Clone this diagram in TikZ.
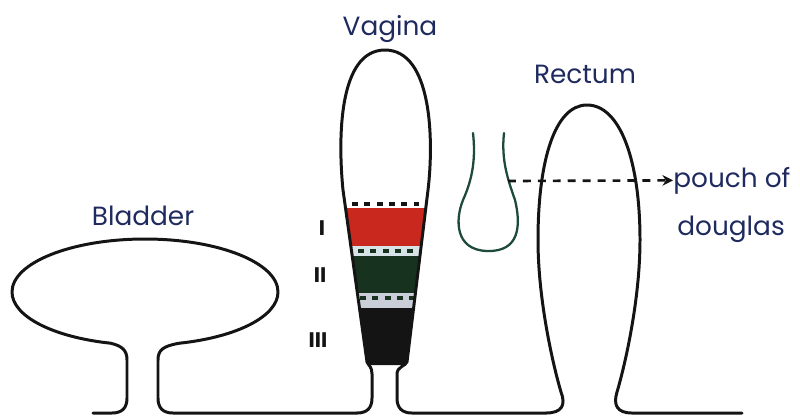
\documentclass[tikz,border=0pt]{standalone}
\usepackage{fontspec}
\setmainfont{Poppins}
\usepackage{tikz}
\usetikzlibrary{arrows.meta, positioning}
\usepackage{xcolor}
\definecolor{inkblue}{HTML}{1F2B5E}
\definecolor{inkdark}{HTML}{141414}
\definecolor{pouchgreen}{HTML}{1E4A3E}
\definecolor{bandred}{HTML}{C9281F}
\definecolor{bandgreen}{HTML}{17331F}
\definecolor{bandpale}{HTML}{D6E4E8}
\definecolor{bandgray}{HTML}{C9CED8}

\begin{document}
\begin{tikzpicture}[x=0.02cm, y=-0.02cm,
  organ/.style={line width=1.7pt, line cap=round, line join=round, inkdark},
  organlabel/.style={font=\fontsize{15}{18}\selectfont, text=inkblue, inner sep=0pt},
  numeral/.style={font=\bfseries\fontsize{12}{14}\selectfont, text=inkdark, inner sep=0pt},
  bandrow/.style={line width=2pt, dash pattern=on 3.4pt off 3.6pt}]
  \useasboundingbox (0,0) rectangle (800,417);

  % Bands inside the lower vagina
  \begin{scope}
    \clip (343,190) -- (367.5,365) -- (406.5,365) -- (428,190) -- cycle;
    \fill[bandred] (330,208) rectangle (440,246);
    \fill[bandpale] (330,246) rectangle (440,256);
    \fill[bandgreen] (330,256) rectangle (440,293);
    \fill[bandgray] (330,293) rectangle (440,308);
    \fill[inkdark] (330,308) rectangle (440,366);
    \draw[bandrow, inkdark] (352,204) -- (440,204);
    \draw[bandrow, bandgreen] (358,251) -- (440,251);
    \draw[bandrow, bandgreen] (360,298) -- (440,298);
  \end{scope}

  % Bladder, down its neck to the floor
  \draw[organ] (93,413) -- (112,413)
    .. controls (122,413) and (127,408) .. (127,398) -- (127,360)
    .. controls (127,350) and (122,346) .. (110.6,343.2)
    .. controls (52.4,337) and (12,316) .. (12,292)
    .. controls (12,262.7) and (71.6,239) .. (145,239)
    .. controls (218.4,239) and (278,262.7) .. (278,292)
    .. controls (278,316) and (237.6,337) .. (179.4,343.2)
    .. controls (163,346) and (158,350) .. (158,360) -- (158,398)
    .. controls (158,408) and (163,413) .. (173,413) -- (357,413);

  % Vagina
  \draw[organ] (357,413)
    .. controls (367,413) and (372,408) .. (372,398) -- (372,374)
    .. controls (372,367) and (369,366) .. (367,362) -- (343,190)
    .. controls (338,140) and (338,50) .. (385,50)
    .. controls (432,50) and (434,140) .. (428,190) -- (407,362)
    .. controls (405,366) and (397,367) .. (397,374) -- (397,398)
    .. controls (397,408) and (402,413) .. (412,413) -- (546,413);

  % Rectum
  \draw[organ] (546,413)
    .. controls (562,413) and (566,405) .. (561,392)
    .. controls (553,365) and (538,300) .. (538,240)
    .. controls (538,160) and (555,105) .. (587,105)
    .. controls (620,105) and (640,160) .. (640,240)
    .. controls (640,300) and (625,365) .. (617,392)
    .. controls (613,405) and (617,413) .. (632,413) -- (742,413);

  % Pouch of Douglas
  \draw[line width=1.3pt, line cap=round, pouchgreen] (473,133)
    .. controls (476,160) and (472,180) .. (463,200)
    .. controls (455,220) and (455,250) .. (487,251)
    .. controls (520,252) and (521,225) .. (515,200)
    .. controls (508,180) and (501,160) .. (504,133);
  \coordinate (pouchwall) at (508,181);

  % Degree marks
  \node[numeral] (degone) at (322,228) {I};
  \node[numeral] (degtwo) at (320,275) {II};
  \node[numeral] (degthree) at (318,340) {III};

  % Labels
  \node[organlabel, anchor=base] (bladderlabel) at (143,225) {Bladder};
  \node[organlabel, anchor=base] (vaginalabel) at (390,35) {Vagina};
  \node[organlabel, anchor=base] (rectumlabel) at (585,83) {Rectum};
  \node[organlabel, anchor=base west] (pouchtop) at (673,187) {pouch of};
  \node[organlabel, anchor=base west] (pouchbottom) at (677,235) {douglas};

  \draw[-{Stealth[length=6pt, width=6pt]}, line width=1.5pt, inkdark,
    dash pattern=on 4.5pt off 4pt] (pouchwall) -- (pouchtop.west);
\end{tikzpicture}
\end{document}
